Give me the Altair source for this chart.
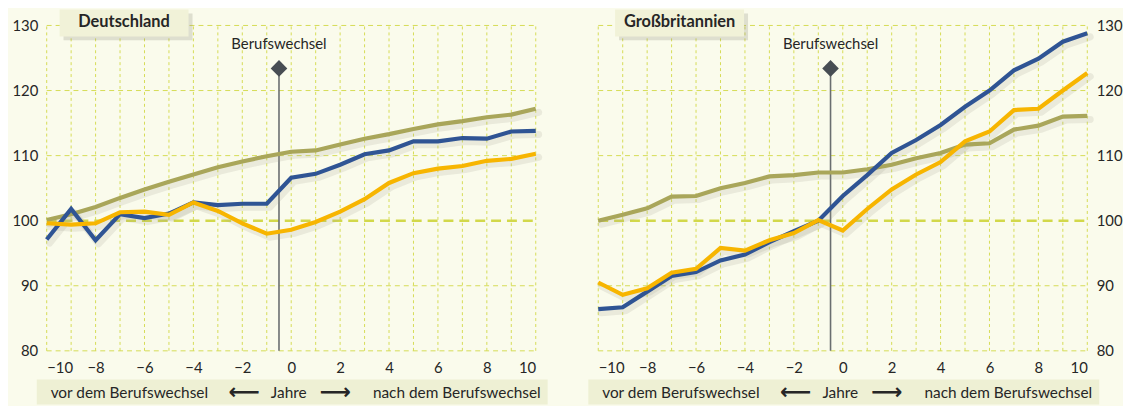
import altair as alt
import pandas as pd

years = list(range(-10, 11))

de_olive = [100.1, 101.0, 102.1, 103.5, 104.8, 106.0, 107.1, 108.2, 109.1, 109.9, 110.6,
            110.8, 111.7, 112.6, 113.3, 114.1, 114.8, 115.3, 115.9, 116.3, 117.2]
de_blue = [97.1, 101.8, 97.0, 101.0, 100.4, 101.1, 102.8, 102.4, 102.6, 102.6, 106.6,
           107.2, 108.6, 110.2, 110.8, 112.2, 112.2, 112.7, 112.6, 113.7, 113.8]
de_yellow = [99.6, 99.4, 99.6, 101.3, 101.4, 100.9, 102.8, 101.5, 99.6, 98.0, 98.6,
             99.8, 101.4, 103.3, 105.8, 107.3, 108.0, 108.4, 109.2, 109.5, 110.3]

gb_olive = [100.0, 100.9, 101.9, 103.7, 103.8, 105.0, 105.8, 106.8, 107.0, 107.4, 107.4,
            107.9, 108.6, 109.6, 110.4, 111.7, 111.9, 114.0, 114.6, 116.0, 116.1]
gb_blue = [86.4, 86.7, 89.1, 91.5, 92.1, 93.9, 94.8, 96.7, 98.4, 100.0, 103.8,
           107.0, 110.4, 112.4, 114.7, 117.5, 120.0, 123.1, 124.9, 127.5, 128.8]
gb_yellow = [90.5, 88.6, 89.6, 92.0, 92.6, 95.8, 95.4, 97.0, 98.1, 100.1, 98.5,
             101.8, 104.8, 107.1, 109.0, 112.2, 113.7, 117.0, 117.2, 120.0, 122.7]

x_tick_labels = [-10, -8, -6, -4, -2, 0, 2, 4, 6, 8, 10]
y_ticks = [80, 90, 100, 110, 120, 130]
grid_years = list(range(-10, 11))
y_grid = [80, 90, 110, 120, 130]
baseline = [100]
event_year = [-0.5]
event_marker = [123.4]
event_label_y = [127.1]
x_min, x_max = -10, 10
y_min, y_max = 80, 130

BG = "#fafbec"
GRID = "#d6dc55"
FONT = "Lato"
TXT = "#262626"
W, H = 493, 328


def panel(olive, blue, yellow, title, orient, box_x, title_x):
    rows = []
    for name, vals in (("olive", olive), ("blue", blue), ("yellow", yellow)):
        for yr, v in zip(years, vals):
            rows.append({"Jahr": yr, "Wert": v, "Serie": name})
    df = pd.DataFrame(rows)

    xs = alt.Scale(domain=[x_min, x_max], nice=False, zero=False)
    ys = alt.Scale(domain=[y_min, y_max], nice=False, zero=False)

    x_axis = alt.Axis(values=x_tick_labels, grid=False, domain=False, ticks=False,
                      labelFontSize=15, labelFont=FONT, labelColor=TXT,
                      labelPadding=10, title=None, format="d")
    y_axis = alt.Axis(values=y_ticks, grid=False, domain=False, ticks=False, orient=orient,
                      labelFontSize=15, labelFont=FONT, labelColor=TXT,
                      labelPadding=9, title=None)

    vdf = pd.DataFrame({"Jahr": grid_years, "lo": [y_min] * len(grid_years),
                        "hi": [y_max] * len(grid_years)})
    vgrid = alt.Chart(vdf).mark_rule(
        color=GRID, strokeWidth=1, strokeDash=[3, 3]
    ).encode(
        x=alt.X("Jahr:Q", scale=xs, axis=x_axis),
        y=alt.Y("lo:Q", scale=ys, axis=y_axis),
        y2="hi:Q",
    )
    hdf = pd.DataFrame({"Wert": y_grid, "a": [x_min] * len(y_grid), "b": [x_max] * len(y_grid)})
    hgrid = alt.Chart(hdf).mark_rule(
        color=GRID, strokeWidth=1, strokeDash=[5, 4]
    ).encode(
        y=alt.Y("Wert:Q", scale=ys),
        x=alt.X("a:Q", scale=xs),
        x2="b:Q",
    )
    bdf = pd.DataFrame({"Wert": baseline, "a": [x_min], "b": [x_max]})
    base100 = alt.Chart(bdf).mark_rule(
        color="#d2d84a", strokeWidth=2.5, strokeDash=[10, 6]
    ).encode(
        y=alt.Y("Wert:Q", scale=ys),
        x=alt.X("a:Q", scale=xs),
        x2="b:Q",
    )

    color_scale = alt.Scale(domain=["olive", "blue", "yellow"],
                            range=["#a9a65a", "#2f5494", "#f7b500"])
    shadow = alt.Chart(df).transform_calculate(
        sx="datum.Jahr + 0.12", sy="datum.Wert - 0.55"
    ).mark_line(
        strokeWidth=7, color="#a0a090", opacity=0.18, strokeJoin="round", strokeCap="round"
    ).encode(
        x=alt.X("sx:Q", scale=xs),
        y=alt.Y("sy:Q", scale=ys),
        detail="Serie:N",
    )
    line_layers = []
    for name in ["olive", "blue", "yellow"]:
        line_layers.append(
            alt.Chart(df).transform_filter(alt.datum.Serie == name).mark_line(
                strokeWidth=4.2, strokeJoin="miter"
            ).encode(
                x=alt.X("Jahr:Q", scale=xs),
                y=alt.Y("Wert:Q", scale=ys),
                color=alt.Color("Serie:N", scale=color_scale, legend=None),
            )
        )

    ev = pd.DataFrame({"Jahr": event_year, "Wert": event_marker, "Label": event_label_y,
                       "lo": [y_min], "Text": ["Berufswechsel"]})
    ev_rule = alt.Chart(ev).mark_rule(color="#6a6e70", strokeWidth=1.6).encode(
        x=alt.X("Jahr:Q", scale=xs),
        y=alt.Y("lo:Q", scale=ys),
        y2="Wert:Q",
    )
    ev_point = alt.Chart(ev).mark_point(
        shape="diamond", filled=True, size=280, color="#474d53", opacity=1
    ).encode(x=alt.X("Jahr:Q", scale=xs), y=alt.Y("Wert:Q", scale=ys))
    ev_text = alt.Chart(ev).mark_text(
        fontSize=15, font=FONT, color=TXT, baseline="middle"
    ).encode(x=alt.X("Jahr:Q", scale=xs), y=alt.Y("Label:Q", scale=ys), text="Text:N")

    deco = pd.DataFrame({"t": [title]})
    box_shadow = alt.Chart(deco).mark_rect(color="#8c8c78", opacity=0.25).encode(
        x=alt.value(box_x + 4), x2=alt.value(box_x + 134),
        y=alt.value(-12), y2=alt.value(15),
    )
    box = alt.Chart(deco).mark_rect(color="#f1f2d8").encode(
        x=alt.value(box_x), x2=alt.value(box_x + 130),
        y=alt.value(-16), y2=alt.value(11),
    )
    box_text = alt.Chart(deco).mark_text(
        fontSize=16.5, font=FONT, fontWeight="bold", color=TXT, baseline="middle"
    ).encode(x=alt.value(title_x), y=alt.value(-3), text="t:N")

    band = alt.Chart(deco).mark_rect(color="#eef0d4").encode(
        x=alt.value(-10), x2=alt.value(505), y=alt.value(357), y2=alt.value(382),
    )
    bt = dict(fontSize=15.5, font=FONT, color=TXT, baseline="middle")
    t_vor = alt.Chart(deco).mark_text(align="left", **bt).encode(
        x=alt.value(4), y=alt.value(371), text=alt.value("vor dem Berufswechsel"))
    t_jahre = alt.Chart(deco).mark_text(align="center", **bt).encode(
        x=alt.value(244), y=alt.value(371), text=alt.value("Jahre"))
    t_nach = alt.Chart(deco).mark_text(align="right", **bt).encode(
        x=alt.value(498), y=alt.value(371), text=alt.value("nach dem Berufswechsel"))
    arrow_l = alt.Chart(deco).mark_text(align="center", fontSize=22, font="DejaVu Sans",
                                        fontWeight="bold", color=TXT, baseline="middle").encode(
        x=alt.value(199), y=alt.value(370), text=alt.value("⟵"))
    arrow_r = alt.Chart(deco).mark_text(align="center", fontSize=22, font="DejaVu Sans",
                                        fontWeight="bold", color=TXT, baseline="middle").encode(
        x=alt.value(291), y=alt.value(370), text=alt.value("⟶"))

    return alt.layer(
        vgrid, hgrid, base100, band, ev_rule, shadow, *line_layers, ev_point, ev_text,
        box_shadow, box, box_text, t_vor, t_jahre, t_nach, arrow_l, arrow_r,
    ).properties(width=W, height=H)


left = panel(de_olive, de_blue, de_yellow, "Deutschland", "left", 13, 78)
right = panel(gb_olive, gb_blue, gb_yellow, "Großbritannien", "right", 17, 82)

chart = alt.hconcat(left, right, spacing=41).properties(
    background=BG, padding={"left": 3, "top": 0, "right": 0, "bottom": 0}
).configure_view(stroke=None)

chart.save("out.html", embed_options={"renderer": "svg", "actions": False})
